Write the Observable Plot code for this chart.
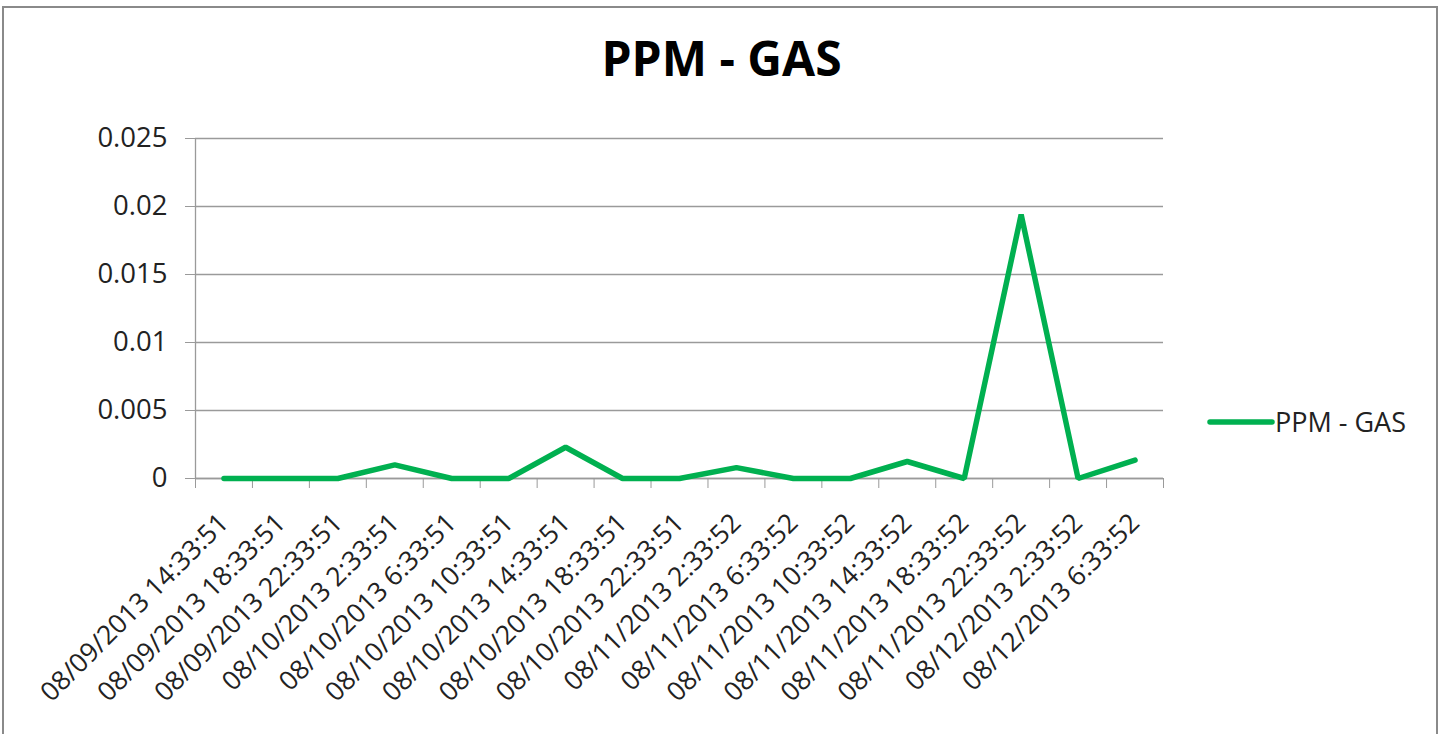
<!DOCTYPE html>
<html>
<head>
<meta charset="utf-8">
<script src="https://cdn.jsdelivr.net/npm/d3@7"></script>
<script src="https://cdn.jsdelivr.net/npm/@observablehq/plot@0.6"></script>
<style>
  html, body { margin: 0; padding: 0; background: #fff; }
  #wrap { position: relative; width: 1443px; height: 734px; overflow: hidden; font-family: "Open Sans", sans-serif; }
  #frame { position: absolute; left: 2px; top: 6px; width: 1436px; height: 760px; border: 2px solid #8a8a8a; box-sizing: border-box; }
  #title { position: absolute; left: 0; width: 1443px; top: 34px; text-align: center; font-size: 48px; font-weight: bold; color: #000; line-height: 1; }
  #chart { position: absolute; left: 0; top: 100px; }
  #legend { position: absolute; left: 1207px; top: 403px; display: flex; align-items: center; font-size: 27px; color: #222; }
</style>
</head>
<body>
<div id="wrap">
  <div id="frame"></div>
  <div id="title">PPM - GAS</div>
  <div id="chart"></div>
  <div id="legend"><svg width="68" height="10"><line x1="3" y1="5" x2="65" y2="5" stroke="#00B050" stroke-width="5.5" stroke-linecap="round"/></svg><span>PPM - GAS</span></div>
</div>
<script>
const seriesName = "PPM - GAS";
const timestamps = [
  "08/09/2013 14:33:51", "08/09/2013 18:33:51", "08/09/2013 22:33:51",
  "08/10/2013 2:33:51", "08/10/2013 6:33:51", "08/10/2013 10:33:51",
  "08/10/2013 14:33:51", "08/10/2013 18:33:51", "08/10/2013 22:33:51",
  "08/11/2013 2:33:52", "08/11/2013 6:33:52", "08/11/2013 10:33:52",
  "08/11/2013 14:33:52", "08/11/2013 18:33:52", "08/11/2013 22:33:52",
  "08/12/2013 2:33:52", "08/12/2013 6:33:52"
];
const ppmValues = [0, 0, 0, 0.001, 0, 0, 0.0023, 0, 0, 0.0008, 0, 0, 0.00125, 0, 0.0194, 0, 0.00135];
const yTicks = [0, 0.005, 0.01, 0.015, 0.02, 0.025];

const data = timestamps.map((t, i) => ({idx: i + 1, label: t, value: ppmValues[i]}));
const centers = data.map(d => d.idx);
const boundaries = d3.range(0, timestamps.length + 1).map(i => i + 0.5);

const chart = Plot.plot({
  width: 1443,
  height: 634,
  marginLeft: 195,
  marginRight: 280,
  marginTop: 38,
  marginBottom: 256,
  style: {fontFamily: "'Open Sans', sans-serif", background: "transparent", overflow: "visible"},
  x: {type: "linear", domain: [0.5, timestamps.length + 0.5]},
  y: {domain: [0, 0.025]},
  marks: [
    Plot.gridY(yTicks, {stroke: "#9a9a9a", strokeOpacity: 1, strokeWidth: 1.3}),
    Plot.ruleX([0.5], {stroke: "#9a9a9a", strokeWidth: 1.3}),
    Plot.ruleY([0], {stroke: "#9a9a9a", strokeWidth: 1.3}),
    Plot.axisY(yTicks, {
      label: null, tickSize: 10, tickPadding: 18, stroke: "#9a9a9a", fill: "#222", fontSize: 27.5,
      tickFormat: d => String(+d.toFixed(3))
    }),
    Plot.axisX(boundaries, {label: null, tickSize: 10, stroke: "#9a9a9a", tickFormat: () => ""}),
    Plot.axisX(centers, {
      label: null, tickSize: 0, tickPadding: 40, tickRotate: -45, fill: "#222", fontSize: 26.5,
      tickFormat: i => timestamps[i - 1]
    }),
    Plot.line(data, {x: "idx", y: "value", stroke: "#00B050", strokeWidth: 5.5, strokeLinejoin: "miter", strokeLinecap: "round"})
  ]
});
document.getElementById("chart").appendChild(chart);
</script>
</body>
</html>
